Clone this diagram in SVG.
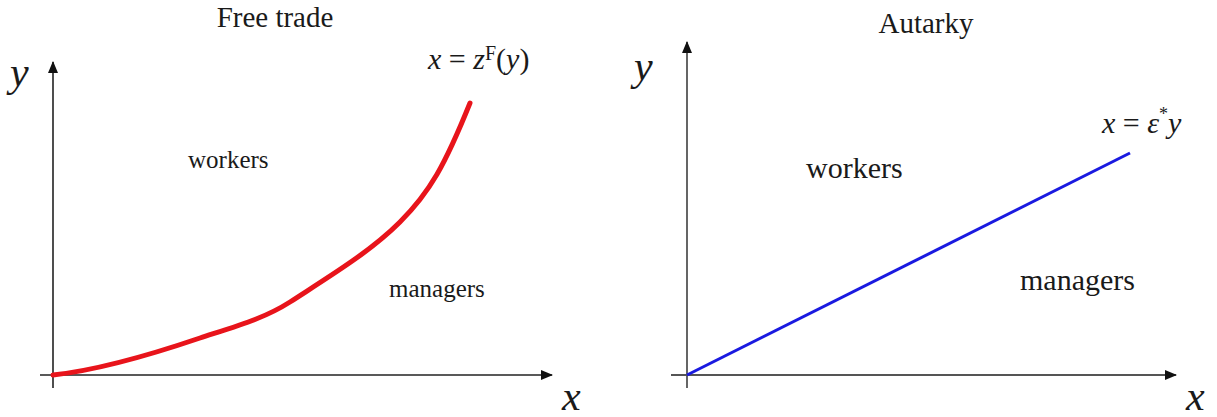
<svg xmlns="http://www.w3.org/2000/svg" width="1217" height="417" viewBox="0 0 1217 417">
<style>
text{font-family:'Liberation Serif','Times New Roman',serif;fill:#1a1a1a}
.t{font-size:29px}
.l{font-size:25px}
.r{font-size:30px}
.ax{font-style:italic;font-size:42px}
.eq{font-size:30px}
.axis{stroke:#222;stroke-width:1.6;fill:none}
.axis2{stroke:#555;stroke-width:1.8;fill:none}
</style>
<defs>
<marker id="ah" markerWidth="12" markerHeight="10" refX="11" refY="5" orient="auto" markerUnits="userSpaceOnUse"><path d="M0,0 L12,5 L0,10 Z" fill="#111"/></marker>
</defs>
<rect width="1217" height="417" fill="#fff"/>
<g id="connectors">
<line class="axis" x1="53" y1="388" x2="53" y2="62" marker-end="url(#ah)"/>
<line class="axis" x1="40" y1="375" x2="552" y2="375" marker-end="url(#ah)"/>
<line class="axis2" x1="687" y1="388" x2="687" y2="42" marker-end="url(#ah)"/>
<line class="axis2" x1="671" y1="375" x2="1176" y2="375" marker-end="url(#ah)"/>
<path d="M53,375 C100,370 150,355 200,338 C240,325 265,318 290,302 C330,276 370,252 400,222 C430,192 445,165 470,103" fill="none" stroke="#e8141b" stroke-width="5" stroke-linecap="round"/>
<line x1="687" y1="375" x2="1130" y2="153" stroke="#1a1ae0" stroke-width="3"/>
</g>
<g id="free-trade">
<text class="t" x="275" y="27" text-anchor="middle">Free trade</text>
<text class="ax" x="10" y="86">y</text>
<text class="ax" x="562" y="410">x</text>
<text class="eq" x="428" y="69"><tspan font-style="italic">x</tspan> = <tspan font-style="italic">z</tspan><tspan font-size="20" dy="-9">F</tspan><tspan dy="9">(</tspan><tspan font-style="italic">y</tspan>)</text>
<text class="l" x="188" y="168">workers</text>
<text class="l" x="389" y="297">managers</text>
</g>
<g id="autarky">
<text class="t" x="926" y="33" text-anchor="middle">Autarky</text>
<text class="ax" x="634" y="80">y</text>
<text class="ax" x="1186" y="410">x</text>
<text class="eq" x="1102" y="133"><tspan font-style="italic">x</tspan> = <tspan font-style="italic">ε</tspan><tspan font-size="18" dy="-13">*</tspan><tspan font-style="italic" dy="13">y</tspan></text>
<text class="r" x="806" y="178">workers</text>
<text class="r" x="1020" y="290">managers</text>
</g>
</svg>
